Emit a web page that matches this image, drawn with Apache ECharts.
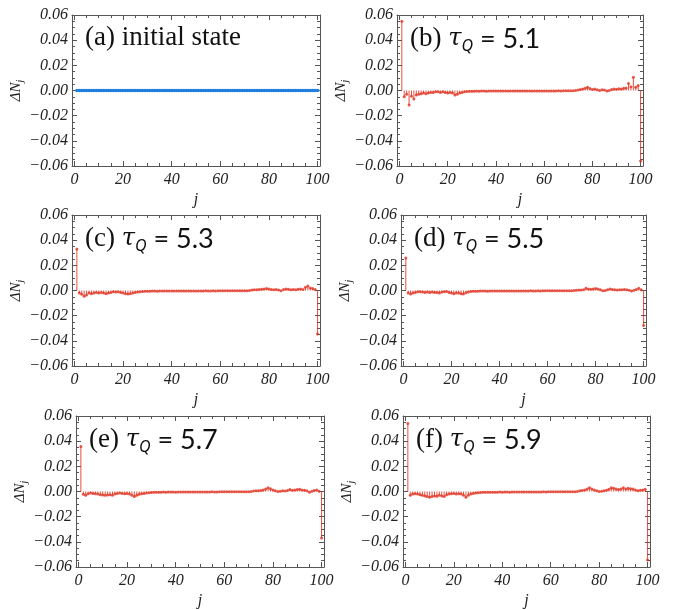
<!DOCTYPE html>
<html>
<head>
<meta charset="utf-8">
<script src="https://cdn.jsdelivr.net/npm/echarts@6/dist/echarts.min.js"></script>
<style>
  html, body { margin: 0; padding: 0; background: #fff; }
  #chart { width: 673px; height: 610px; }
</style>
</head>
<body>
<div id="chart"></div>
<script>
// site index j = 1..100
var sites = []
for (var k = 1; k <= 100; k++) sites.push(k)

// (a) initial state: all zero
var stateA = [
  0, 0, 0, 0, 0, 0, 0, 0, 0, 0, 0, 0, 0, 0, 0, 0, 0, 0, 0, 0,
  0, 0, 0, 0, 0, 0, 0, 0, 0, 0, 0, 0, 0, 0, 0, 0, 0, 0, 0, 0,
  0, 0, 0, 0, 0, 0, 0, 0, 0, 0, 0, 0, 0, 0, 0, 0, 0, 0, 0, 0,
  0, 0, 0, 0, 0, 0, 0, 0, 0, 0, 0, 0, 0, 0, 0, 0, 0, 0, 0, 0,
  0, 0, 0, 0, 0, 0, 0, 0, 0, 0, 0, 0, 0, 0, 0, 0, 0, 0, 0, 0
]
// (b) tauQ = 5.1
var tau51 = [
  0.055, -0.005, -0.003, -0.0115, -0.0045, -0.0068, -0.0035, -0.003, -0.0025, -0.002,
  -0.0025, -0.002, -0.0015, -0.0015, -0.001, -0.001, -0.0015, -0.001, -0.0015, -0.002,
  -0.0015, -0.002, -0.0035, -0.003, -0.002, -0.0015, -0.001, -0.0008, -0.0006, -0.0005,
  -0.0005, -0.0004, -0.0005, -0.0004, -0.0004, -0.0005, -0.0004, -0.0003, -0.0004, -0.0004,
  -0.0003, -0.0004, -0.0003, -0.0003, -0.0004, -0.0003, -0.0003, -0.0004, -0.0003, -0.0003,
  -0.0003, -0.0003, -0.0004, -0.0003, -0.0003, -0.0003, -0.0003, -0.0003, -0.0004, -0.0003,
  -0.0003, -0.0003, -0.0003, -0.0003, -0.0003, -0.0002, -0.0003, -0.0002, -0.0002, -0.0002,
  -0.0002, -0.0001, 0, 0.0003, 0.0008, 0.0012, 0.0018, 0.0025, 0.0015, 0.0008,
  0.0012, 0.0005, 0, 0.0005, 0.0003, -0.0003, 0, 0.0008, 0.0012, 0.001,
  0.0014, 0.0012, 0.0018, 0.002, 0.0055, 0.003, 0.0105, 0.0025, 0.004, -0.056
]
// (c) tauQ = 5.3
var tau53 = [
  0.033, -0.002, -0.003, -0.0045, -0.0035, -0.002, -0.0025, -0.002, -0.0015, -0.002,
  -0.0015, -0.002, -0.0025, -0.002, -0.0015, -0.001, -0.0012, -0.001, -0.0015, -0.002,
  -0.0025, -0.0028, -0.0025, -0.002, -0.0015, -0.0012, -0.001, -0.0008, -0.0006, -0.0005,
  -0.0005, -0.0004, -0.0004, -0.0005, -0.0004, -0.0004, -0.0003, -0.0004, -0.0004, -0.0003,
  -0.0003, -0.0004, -0.0003, -0.0003, -0.0003, -0.0004, -0.0003, -0.0003, -0.0003, -0.0003,
  -0.0003, -0.0003, -0.0003, -0.0002, -0.0003, -0.0003, -0.0002, -0.0003, -0.0002, -0.0002,
  -0.0002, -0.0002, -0.0002, -0.0002, -0.0001, -0.0002, -0.0001, -0.0001, -0.0001, -0.0001,
  -0.0001, 0, 0.0003, 0.0005, 0.0006, 0.0008, 0.001, 0.0012, 0.0015, 0.0012,
  0.0008, 0.0005, 0.0008, 0.0003, -0.0002, 0.0008, 0.0012, 0.001, 0.0005, 0.0008,
  0.0005, 0.001, 0.0012, 0.0008, 0.0025, 0.0035, 0.002, 0.0015, 0.0008, -0.0345
]
// (d) tauQ = 5.5
var tau55 = [
  0.0258, -0.002, -0.0028, -0.002, -0.0015, -0.001, -0.001, -0.0012, -0.0015, -0.0012,
  -0.0015, -0.0012, -0.0015, -0.0015, -0.002, -0.0012, -0.001, -0.0008, -0.0015, -0.002,
  -0.0025, -0.002, -0.002, -0.0025, -0.0028, -0.0018, -0.0012, -0.0008, -0.0006, -0.0005,
  -0.0005, -0.0004, -0.0004, -0.0004, -0.0005, -0.0004, -0.0004, -0.0003, -0.0004, -0.0004,
  -0.0003, -0.0003, -0.0004, -0.0003, -0.0003, -0.0003, -0.0004, -0.0003, -0.0003, -0.0003,
  -0.0003, -0.0003, -0.0002, -0.0003, -0.0003, -0.0002, -0.0003, -0.0002, -0.0002, -0.0002,
  -0.0002, -0.0002, -0.0001, -0.0002, -0.0001, -0.0001, -0.0001, -0.0001, -0.0001, -0.0001,
  0, 0.0002, 0.0003, 0.0003, 0.0005, 0.0018, 0.0012, 0.001, 0.0012, 0.0015,
  0.0012, 0.0005, -0.0002, 0, 0.0005, 0.0012, 0.0008, 0.0005, 0.0003, 0.0006,
  0.0005, 0.0008, 0.0005, 0.0002, -0.0003, 0.0002, 0.0008, 0.0018, 0.0005, -0.0278
]
// (e) tauQ = 5.7
var tau57 = [
  0.0358, -0.0022, -0.003, -0.0018, -0.0012, -0.0015, -0.0018, -0.002, -0.0025, -0.0028,
  -0.003, -0.0028, -0.0025, -0.003, -0.002, -0.0015, -0.0012, -0.0015, -0.0018, -0.0015,
  -0.002, -0.003, -0.004, -0.003, -0.0022, -0.0018, -0.0015, -0.0012, -0.001, -0.0008,
  -0.0006, -0.0005, -0.0005, -0.0005, -0.0004, -0.0005, -0.0004, -0.0004, -0.0004, -0.0005,
  -0.0004, -0.0004, -0.0003, -0.0004, -0.0004, -0.0003, -0.0003, -0.0004, -0.0003, -0.0003,
  -0.0003, -0.0003, -0.0003, -0.0003, -0.0002, -0.0003, -0.0003, -0.0002, -0.0002, -0.0002,
  -0.0002, -0.0002, -0.0002, -0.0001, -0.0002, -0.0001, -0.0001, -0.0001, -0.0001, -0.0001,
  0, 0.0003, 0.0005, 0.0005, 0.0008, 0.0012, 0.002, 0.003, 0.0022, 0.0012,
  0.0005, 0, 0.0002, 0.0005, 0.0003, 0.0008, 0.0015, 0.001, 0.0012, 0.0015,
  0.0018, 0.0012, 0.001, 0.0005, -0.0005, 0.0002, 0.0008, 0.0012, 0.0002, -0.037
]
// (f) tauQ = 5.9
var tau59 = [
  0.054, -0.003, -0.002, -0.0018, -0.002, -0.0025, -0.003, -0.0035, -0.004, -0.0045,
  -0.004, -0.0035, -0.0038, -0.003, -0.0035, -0.004, -0.0025, -0.002, -0.0018, -0.0015,
  -0.002, -0.0018, -0.002, -0.003, -0.0045, -0.003, -0.002, -0.0015, -0.0012, -0.001,
  -0.0008, -0.0006, -0.0006, -0.0005, -0.0006, -0.0005, -0.0005, -0.0005, -0.0004, -0.0005,
  -0.0004, -0.0004, -0.0005, -0.0004, -0.0004, -0.0004, -0.0003, -0.0004, -0.0003, -0.0003,
  -0.0004, -0.0003, -0.0003, -0.0003, -0.0003, -0.0003, -0.0002, -0.0003, -0.0002, -0.0002,
  -0.0002, -0.0002, -0.0002, -0.0002, -0.0001, -0.0002, -0.0001, -0.0001, -0.0001, -0.0001,
  0, 0.0005, 0.0008, 0.0012, 0.002, 0.003, 0.002, 0.0012, 0.0005, 0,
  0.0002, 0.0005, 0.001, 0.0018, 0.003, 0.0025, 0.002, 0.0015, 0.002, 0.003,
  0.002, 0.0025, 0.0022, 0.002, 0.0012, 0.0005, 0.001, 0.0012, 0.0018, -0.0545
]

// x ticks (plot range is padded a little beyond 0..100)
var xMajor = [0, 20, 40, 60, 80, 100]
var xMinor = [5, 10, 15, 25, 30, 35, 45, 50, 55, 65, 70, 75, 85, 90, 95]
var xRange = { min: -1, max: 101 }
var yTicks = { min: -0.06, max: 0.06, interval: 0.02 }

var panels = [
  { label: '(a)', text: 'initial state', data: stateA, rect: [72, 15, 248, 151] },
  { label: '(b)', tq: '5.1', data: tau51, rect: [397, 15, 246, 151] },
  { label: '(c)', tq: '5.3', data: tau53, rect: [72, 215, 248, 151] },
  { label: '(d)', tq: '5.5', data: tau55, rect: [401, 215, 245, 151] },
  { label: '(e)', tq: '5.7', data: tau57, rect: [76, 416, 248, 153] },
  { label: '(f)', tq: '5.9', data: tau59, rect: [403, 416, 247, 153] }
]

var frameColor = '#555'
var red = '#e0301e'
var blue = '#1f7fe0'
var labelFont = { fontFamily: 'Liberation Serif', fontStyle: 'italic', fontSize: 16, color: '#222' }

function xAx (i, pos, ticks, len, withLine, withLabel) {
  var ax = {
    type: 'value', gridIndex: i, position: pos,
    min: xRange.min, max: xRange.max,
    axisLine: { show: withLine, onZero: false, lineStyle: { color: frameColor, width: 1 } },
    axisTick: { inside: true, length: len, customValues: ticks, lineStyle: { color: frameColor } },
    axisLabel: { show: false },
    splitLine: { show: false }
  }
  if (withLabel) {
    ax.axisLabel = Object.assign({ show: true, margin: 6, customValues: xMajor }, labelFont)
    ax.name = 'j'
    ax.nameLocation = 'middle'
    ax.nameGap = 26
    ax.nameTextStyle = labelFont
  }
  return ax
}

function yAx (i, pos, withLabel) {
  var ax = {
    type: 'value', gridIndex: i, position: pos,
    min: yTicks.min, max: yTicks.max, interval: yTicks.interval,
    axisLine: { onZero: false, lineStyle: { color: frameColor, width: 1 } },
    axisTick: { inside: true, length: 5, lineStyle: { color: frameColor } },
    minorTick: { show: true, splitNumber: 4, length: 3, lineStyle: { color: frameColor } },
    splitLine: { show: false },
    axisLabel: { show: false }
  }
  if (withLabel) {
    ax.axisLabel = Object.assign({
      margin: 4,
      formatter: function (v) {
        var r = Math.round(v * 100) / 100
        return (r < 0 ? '\u2212' : '') + Math.abs(r).toFixed(2)
      }
    }, labelFont)
    ax.name = '{n|ΔN}{s|j}'
    ax.nameLocation = 'middle'
    ax.nameGap = 46
    ax.nameRotate = 90
    ax.nameTextStyle = {
      rich: {
        n: { fontFamily: 'Liberation Serif', fontStyle: 'italic', fontSize: 15, color: '#222' },
        s: { fontFamily: 'Liberation Serif', fontStyle: 'italic', fontSize: 10, color: '#222', padding: [8, 0, 0, 0] }
      }
    }
  }
  return ax
}

var grid = []
var xAxis = []
var yAxis = []
var series = []
var title = []

panels.forEach(function (p, i) {
  grid.push({ left: p.rect[0], top: p.rect[1], width: p.rect[2], height: p.rect[3] })

  // 4 x axes per panel: bottom major (labels), bottom minor, top major, top minor
  xAxis.push(xAx(i, 'bottom', xMajor, 5, true, true))
  xAxis.push(xAx(i, 'bottom', xMinor, 3, false, false))
  xAxis.push(xAx(i, 'top', xMajor, 5, true, false))
  xAxis.push(xAx(i, 'top', xMinor, 3, false, false))
  yAxis.push(yAx(i, 'left', true))
  yAxis.push(yAx(i, 'right', false))

  var xi = 4 * i
  var yi = 2 * i
  var pts = sites.map(function (j, idx) { return [j, p.data[idx]] })
  if (i === 0) {
    series.push({
      type: 'line', xAxisIndex: xi, yAxisIndex: yi, data: pts,
      symbol: 'circle', symbolSize: 3.5, showSymbol: true,
      itemStyle: { color: blue }, lineStyle: { color: blue, width: 2.5 },
      silent: true, animation: false
    })
  } else {
    series.push({
      type: 'bar', xAxisIndex: xi, yAxisIndex: yi, data: pts,
      barWidth: 1, itemStyle: { color: red, opacity: 0.85 },
      silent: true, animation: false
    })
    series.push({
      type: 'scatter', xAxisIndex: xi, yAxisIndex: yi, data: pts,
      symbol: 'circle', symbolSize: 3, itemStyle: { color: red },
      silent: true, animation: false
    })
  }

  var t = {
    left: p.rect[0] + 8,
    top: p.rect[1] + 4,
    textStyle: {
      fontWeight: 'normal',
      rich: {
        p: { fontFamily: 'Liberation Serif', fontWeight: 'normal', fontSize: 27, color: '#111' },
        t: { fontFamily: 'DejaVu Serif', fontWeight: 'normal', fontStyle: 'italic', fontSize: 24, color: '#111' },
        s: { fontFamily: 'Noto Sans', fontWeight: 'normal', fontStyle: 'italic', fontSize: 16, color: '#111', padding: [14, 0, 0, 0] },
        e: { fontFamily: 'Lato', fontWeight: 'normal', fontSize: 27, color: '#111' }
      }
    }
  }
  if (p.text) {
    t.text = '{p|' + p.label + ' ' + p.text + '}'
  } else {
    t.text = '{p|' + p.label + ' }{t|τ}{s|Q}{e| = ' + p.tq + '}'
  }
  title.push(t)
})

var myChart = echarts.init(document.getElementById('chart'), null, { renderer: 'canvas' })
myChart.setOption({
  animation: false,
  backgroundColor: '#fff',
  title: title,
  grid: grid,
  xAxis: xAxis,
  yAxis: yAxis,
  series: series
})
</script>
</body>
</html>
